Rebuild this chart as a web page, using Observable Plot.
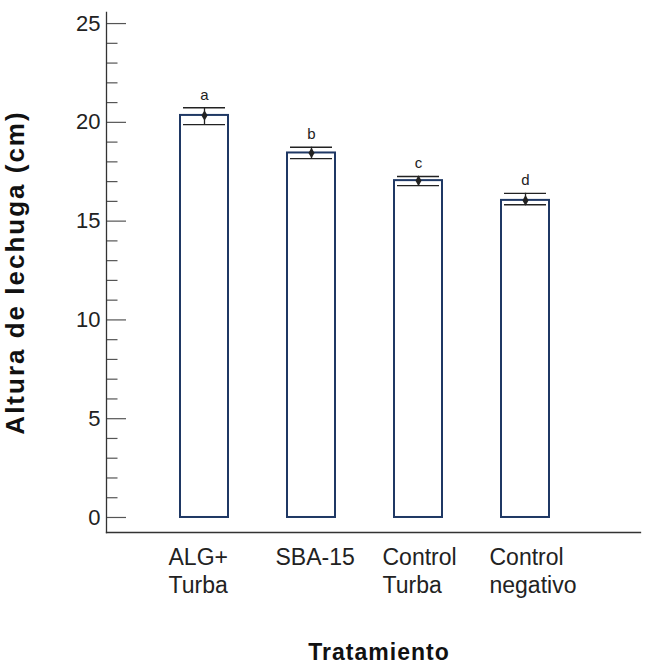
<!DOCTYPE html>
<html>
<head>
<meta charset="utf-8">
<script src="https://cdn.jsdelivr.net/npm/d3@7"></script>
<script src="https://cdn.jsdelivr.net/npm/@observablehq/plot@0.6"></script>
<style>
  body { margin: 0; background: #fff; }
</style>
</head>
<body>
<div id="chart"></div>
<script>
const categories = ["ALG+\nTurba", "SBA-15", "Control\nTurba", "Control\nnegativo"];
const means = [20.35, 18.45, 17.05, 16.05];
const lowers = [19.88, 18.16, 16.80, 15.83];
const uppers = [20.74, 18.74, 17.26, 16.41];
const letters = ["a", "b", "c", "d"];
const yTicks = [0, 5, 10, 15, 20, 25];
const yMinorTicks = [1, 2, 3, 4, 6, 7, 8, 9, 11, 12, 13, 14, 16, 17, 18, 19, 21, 22, 23, 24];
const yDomain = [-0.76, 25.56];
const yLabel = "Altura de lechuga (cm)";
const xLabel = "Tratamiento";

const data = categories.map((c, i) => ({
  cat: c, mean: means[i], lo: lowers[i], hi: uppers[i], letter: letters[i]
}));

const W = 650, H = 664, ML = 106, MR = 10, MT = 12, MB = 132;
const frameW = W - ML - MR;
const font = "'Liberation Sans', Arial, sans-serif";
const navy = "#1f3864";
const ink = "#222";

const chart = Plot.plot({
  width: W,
  height: H,
  marginLeft: ML,
  marginRight: MR,
  marginTop: MT,
  marginBottom: MB,
  style: { fontFamily: font, background: "#fff", color: ink },
  x: { domain: categories, range: [119.6, 609.1], padding: 0.5535, label: null },
  y: { domain: yDomain, label: null },
  marks: [
    Plot.barY(data, { x: "cat", y: "mean", fill: "#fff", stroke: navy, strokeWidth: 2 }),
    Plot.ruleX(data, { x: "cat", y1: "lo", y2: "hi", stroke: ink, strokeWidth: 1.3 }),
    Plot.tickY(data, { x: "cat", y: "hi", stroke: ink, strokeWidth: 1.3, inset: 3 }),
    Plot.tickY(data, { x: "cat", y: "lo", stroke: ink, strokeWidth: 1.3, inset: 3 }),
    Plot.dot(data, { x: "cat", y: "mean", symbol: "diamond", r: 3.2, fill: ink, stroke: null }),
    Plot.text(data, { x: "cat", y: "hi", text: "letter", dy: -8, lineAnchor: "bottom", fontSize: 15, fill: ink }),
    Plot.tickY(yTicks, { y: d => d, stroke: "#555", strokeWidth: 1.2, insetRight: frameW - 20 }),
    Plot.tickY(yMinorTicks, { y: d => d, stroke: "#555", strokeWidth: 1.2, insetRight: frameW - 11.5 }),
    Plot.axisY({ ticks: yTicks, tickSize: 0, tickPadding: 6, fontSize: 22, fill: ink, label: null }),
    Plot.axisX({ tickSize: 0, tickPadding: 13, fontSize: 23, lineHeight: 1.22, textAnchor: "start", dx: -36, fill: ink, label: null }),
    Plot.frame({ anchor: "left", stroke: "#333", strokeWidth: 1.3 }),
    Plot.frame({ anchor: "bottom", stroke: "#333", strokeWidth: 1.3 }),
    Plot.text([yLabel], { text: d => d, frameAnchor: "left", textAnchor: "middle", lineAnchor: "middle", rotate: -90, dx: -91, fontSize: 26, fontWeight: "bold", fill: "#111" }),
    Plot.text([xLabel], { text: d => d, frameAnchor: "bottom", textAnchor: "middle", lineAnchor: "bottom", dx: 5.5, dy: 127, fontSize: 23, fontWeight: "bold", fill: "#111" })
  ]
});
chart.querySelectorAll("text").forEach(t => {
  if (t.textContent === yLabel) t.style.letterSpacing = "2px";
  if (t.textContent === xLabel) t.style.letterSpacing = "1px";
});
document.getElementById("chart").appendChild(chart);
</script>
</body>
</html>
